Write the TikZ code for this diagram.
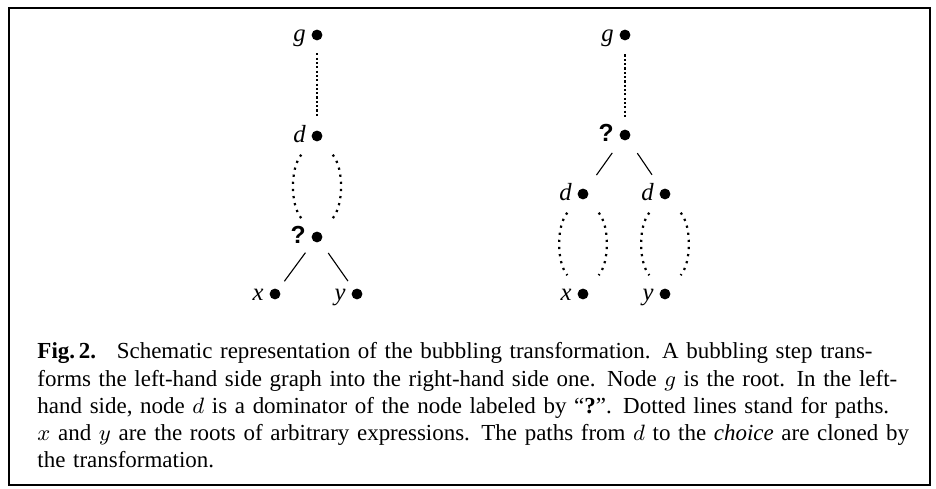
\documentclass[tikz,border=0pt]{standalone}
\usepackage{fontspec}
\setmainfont{Liberation Serif}
\newfontfamily\qfont{Liberation Sans}
\begin{document}
\begin{tikzpicture}[x=0.405pt,y=-0.405pt,
  vtx/.style={circle,fill=black,inner sep=0pt,minimum size=4.4pt},
  lab/.style={inner sep=0pt,text height=7pt,text depth=2pt,font=\fontsize{10}{12}\selectfont\itshape},
  qlab/.style={inner sep=0pt,text height=7pt,text depth=2pt,font=\fontsize{10}{12}\selectfont\qfont\bfseries},
  pathline/.style={line width=0.85pt,dash pattern=on 0.85pt off 0.9pt},
  bubble/.style={line width=0.9pt,dash pattern=on 0.9pt off 2pt,shorten <=7.5pt,shorten >=7.5pt},
  edgeline/.style={line width=0.45pt},
]
\useasboundingbox (0,0) rectangle (936,489);
\draw[line width=0.8pt] (9,8) rectangle (930,485);

% left graph
\node[vtx,label={[lab,label distance=2pt]left:g}] (gL) at (317,35) {};
\node[vtx,label={[lab,label distance=2pt]left:d}] (dL) at (317,136) {};
\node[vtx,label={[qlab,label distance=2pt]left:?}] (qL) at (317,237) {};
\node[vtx,label={[lab,label distance=2pt]left:x}] (xL) at (275,294) {};
\node[vtx,label={[lab,label distance=2pt]left:y}] (yL) at (357,294) {};
\draw[pathline,shorten <=5pt,shorten >=5pt] (gL) -- (dL);
\draw[bubble] (dL) to[bend right=40] (qL);
\draw[bubble] (dL) to[bend left=40] (qL);
\draw[edgeline,shorten <=5.5pt,shorten >=4pt] (qL) -- (xL);
\draw[edgeline,shorten <=5.5pt,shorten >=4pt] (qL) -- (yL);

% right graph
\node[vtx,label={[lab,label distance=2pt]left:g}] (gR) at (625,35) {};
\node[vtx,label={[qlab,label distance=2pt]left:?}] (qR) at (625,135) {};
\node[vtx,label={[lab,label distance=2pt]left:d}] (dR1) at (583,194) {};
\node[vtx,label={[lab,label distance=2pt]left:d}] (dR2) at (665,194) {};
\node[vtx,label={[lab,label distance=2pt]left:x}] (xR) at (583,294) {};
\node[vtx,label={[lab,label distance=2pt]left:y}] (yR) at (665,294) {};
\draw[pathline,shorten <=5.5pt,shorten >=4.5pt] (gR) -- (qR);
\draw[edgeline,shorten <=6.5pt,shorten >=7pt] (qR) -- (dR1);
\draw[edgeline,shorten <=6.5pt,shorten >=7pt] (qR) -- (dR2);
\draw[bubble] (dR1) to[bend right=40] (xR);
\draw[bubble] (dR1) to[bend left=40] (xR);
\draw[bubble] (dR2) to[bend right=40] (yR);
\draw[bubble] (dR2) to[bend left=40] (yR);

% caption
\node[anchor=base west,text width=350.3pt,inner sep=0pt,align=left,
      font=\fontsize{9.3}{11}\selectfont] (cap) at (37,359) {%
\makebox[\linewidth][s]{\textbf{Fig.\,2.}\hspace{0.9em}Schematic representation of the bubbling transformation. A bubbling step trans-}\\
\makebox[\linewidth][s]{forms the left-hand side graph into the right-hand side one. Node $g$ is the root. In the left-}\\
\makebox[\linewidth][s]{hand side, node $d$ is a dominator of the node labeled by ``\textbf{?}''. Dotted lines stand for paths.}\\
\makebox[\linewidth][s]{$x$ and $y$ are the roots of arbitrary expressions. The paths from $d$ to the \textit{choice} are cloned by}\\
the transformation.};
\end{tikzpicture}
\end{document}
